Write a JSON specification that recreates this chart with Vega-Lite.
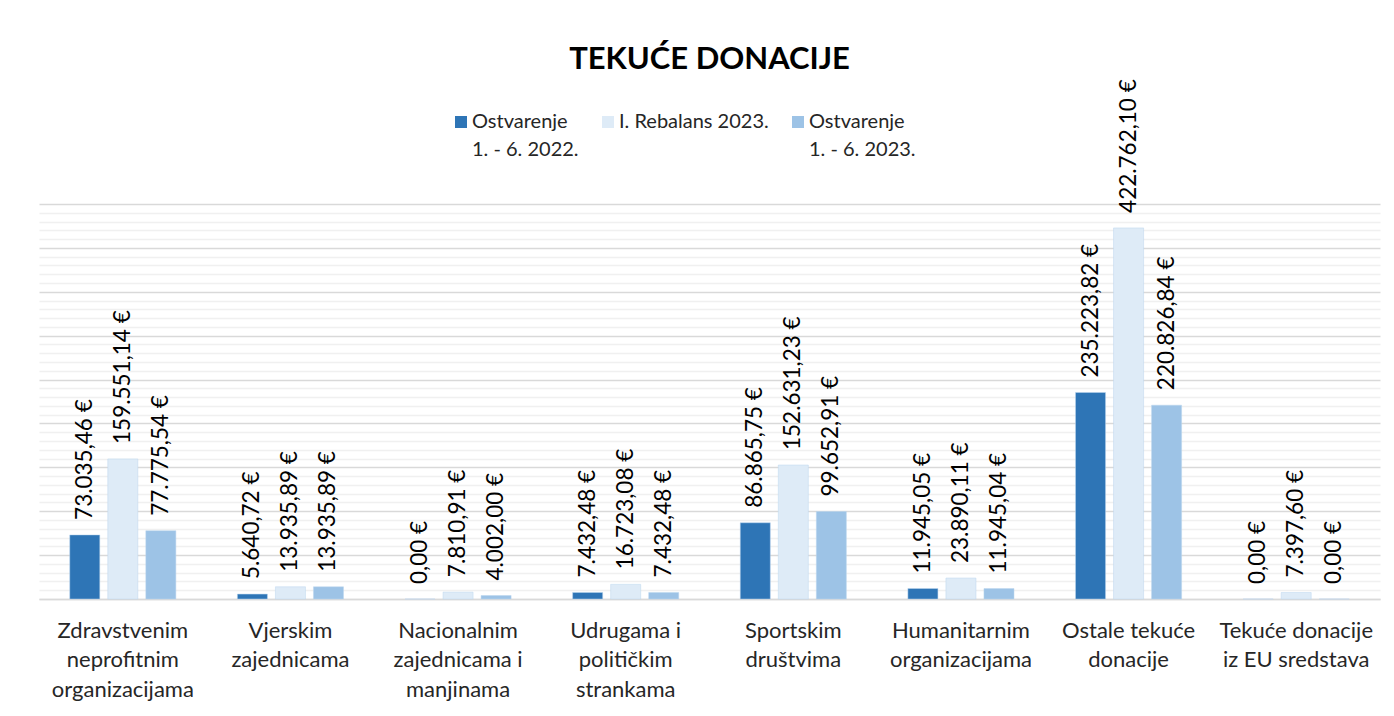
{
  "$schema": "https://vega.github.io/schema/vega-lite/v6.json",
  "width": 1341,
  "height": 395,
  "autosize": {"type": "none"},
  "padding": {"left": 39, "top": 204, "right": 14, "bottom": 117},
  "background": "white",
  "config": {
    "font": "Lato",
    "view": {"stroke": null},
    "style": {"guide-label": {"lineHeight": 28}},
    "locale": {
      "number": {"decimal": ",", "thousands": ".", "grouping": [3], "currency": ["", " €"]}
    }
  },
  "title": {
    "text": "TEKUĆE DONACIJE",
    "font": "Lato",
    "fontSize": 31,
    "fontWeight": "bold",
    "color": "#000000",
    "anchor": "middle",
    "orient": "top",
    "frame": "group",
    "baseline": "alphabetic",
    "offset": -21
  },
  "data": {
    "values": [
      {"kategorija": "Zdravstvenim\nneprofitnim\norganizacijama", "serija": "Ostvarenje 1. - 6. 2022.", "iznos": 73035.46},
      {"kategorija": "Zdravstvenim\nneprofitnim\norganizacijama", "serija": "I. Rebalans 2023.", "iznos": 159551.14},
      {"kategorija": "Zdravstvenim\nneprofitnim\norganizacijama", "serija": "Ostvarenje 1. - 6. 2023.", "iznos": 77775.54},
      {"kategorija": "Vjerskim\nzajednicama", "serija": "Ostvarenje 1. - 6. 2022.", "iznos": 5640.72},
      {"kategorija": "Vjerskim\nzajednicama", "serija": "I. Rebalans 2023.", "iznos": 13935.89},
      {"kategorija": "Vjerskim\nzajednicama", "serija": "Ostvarenje 1. - 6. 2023.", "iznos": 13935.89},
      {"kategorija": "Nacionalnim\nzajednicama i\nmanjinama", "serija": "Ostvarenje 1. - 6. 2022.", "iznos": 0},
      {"kategorija": "Nacionalnim\nzajednicama i\nmanjinama", "serija": "I. Rebalans 2023.", "iznos": 7810.91},
      {"kategorija": "Nacionalnim\nzajednicama i\nmanjinama", "serija": "Ostvarenje 1. - 6. 2023.", "iznos": 4002.00},
      {"kategorija": "Udrugama i\npolitičkim\nstrankama", "serija": "Ostvarenje 1. - 6. 2022.", "iznos": 7432.48},
      {"kategorija": "Udrugama i\npolitičkim\nstrankama", "serija": "I. Rebalans 2023.", "iznos": 16723.08},
      {"kategorija": "Udrugama i\npolitičkim\nstrankama", "serija": "Ostvarenje 1. - 6. 2023.", "iznos": 7432.48},
      {"kategorija": "Sportskim\ndruštvima", "serija": "Ostvarenje 1. - 6. 2022.", "iznos": 86865.75},
      {"kategorija": "Sportskim\ndruštvima", "serija": "I. Rebalans 2023.", "iznos": 152631.23},
      {"kategorija": "Sportskim\ndruštvima", "serija": "Ostvarenje 1. - 6. 2023.", "iznos": 99652.91},
      {"kategorija": "Humanitarnim\norganizacijama", "serija": "Ostvarenje 1. - 6. 2022.", "iznos": 11945.05},
      {"kategorija": "Humanitarnim\norganizacijama", "serija": "I. Rebalans 2023.", "iznos": 23890.11},
      {"kategorija": "Humanitarnim\norganizacijama", "serija": "Ostvarenje 1. - 6. 2023.", "iznos": 11945.04},
      {"kategorija": "Ostale tekuće\ndonacije", "serija": "Ostvarenje 1. - 6. 2022.", "iznos": 235223.82},
      {"kategorija": "Ostale tekuće\ndonacije", "serija": "I. Rebalans 2023.", "iznos": 422762.10},
      {"kategorija": "Ostale tekuće\ndonacije", "serija": "Ostvarenje 1. - 6. 2023.", "iznos": 220826.84},
      {"kategorija": "Tekuće donacije\niz EU sredstava", "serija": "Ostvarenje 1. - 6. 2022.", "iznos": 0},
      {"kategorija": "Tekuće donacije\niz EU sredstava", "serija": "I. Rebalans 2023.", "iznos": 7397.60},
      {"kategorija": "Tekuće donacije\niz EU sredstava", "serija": "Ostvarenje 1. - 6. 2023.", "iznos": 0}
    ]
  },
  "encoding": {
    "x": {
      "field": "kategorija",
      "type": "nominal",
      "sort": null,
      "scale": {"paddingInner": 0.367, "paddingOuter": 0.1835},
      "axis": {
        "title": null,
        "labelAngle": 0,
        "labelExpr": "split(datum.label, '\\n')",
        "labelFont": "Lato",
        "labelFontSize": 22,
        "labelLineHeight": 29.5,
        "labelColor": "#262626",
        "labelPadding": 31,
        "labelBaseline": "middle",
        "ticks": false,
        "domain": true,
        "domainColor": "#d9d9d9",
        "domainWidth": 1.5,
        "labelLimit": 300
      }
    },
    "xOffset": {
      "field": "serija",
      "type": "nominal",
      "sort": ["Ostvarenje 1. - 6. 2022.", "I. Rebalans 2023.", "Ostvarenje 1. - 6. 2023."],
      "scale": {"paddingInner": 0.21, "paddingOuter": 0}
    },
    "y": {
      "field": "iznos",
      "type": "quantitative",
      "scale": {"domain": [0, 450000], "nice": false},
      "axis": {
        "title": null,
        "labels": false,
        "ticks": false,
        "domain": false,
        "grid": true,
        "values": [0,10000,20000,30000,40000,50000,60000,70000,80000,90000,100000,110000,120000,130000,140000,150000,160000,170000,180000,190000,200000,210000,220000,230000,240000,250000,260000,270000,280000,290000,300000,310000,320000,330000,340000,350000,360000,370000,380000,390000,400000,410000,420000,430000,440000,450000],
        "gridColor": {"condition": {"test": "datum.value % 50000 === 0", "value": "#d9d9d9"}, "value": "#f0f0f0"},
        "gridWidth": 1.5
      }
    }
  },
  "layer": [
    {
      "mark": {"type": "bar", "stroke": "#bdd7ee", "strokeWidth": 0.5},
      "encoding": {
        "color": {
          "field": "serija",
          "type": "nominal",
          "sort": ["Ostvarenje 1. - 6. 2022.", "I. Rebalans 2023.", "Ostvarenje 1. - 6. 2023."],
          "scale": {
            "domain": ["Ostvarenje 1. - 6. 2022.", "I. Rebalans 2023.", "Ostvarenje 1. - 6. 2023."],
            "range": ["#2e75b6", "#deebf7", "#9dc3e6"]
          },
          "legend": {
            "title": null,
            "orient": "none",
            "legendX": 412,
            "legendY": -92,
            "direction": "horizontal",
            "symbolType": "square",
            "symbolSize": 144,
            "symbolStrokeWidth": 0,
            "labelFont": "Lato",
            "labelFontSize": 20,
            "labelColor": "#262626",
            "labelOffset": 1,
            "labelBaseline": "middle",
            "columnPadding": 19,
            "labelLimit": 300,
            "labelExpr": "datum.label == 'I. Rebalans 2023.' ? [datum.label, ' '] : ['Ostvarenje', slice(datum.label, 11)]"
          }
        }
      }
    },
    {
      "mark": {
        "type": "text",
        "angle": 270,
        "align": "left",
        "baseline": "middle",
        "dx": 15,
        "font": "Lato",
        "fontSize": 22.5,
        "color": "#000000"
      },
      "encoding": {
        "text": {"field": "iznos", "type": "quantitative", "format": "$,.2f"}
      }
    }
  ]
}
